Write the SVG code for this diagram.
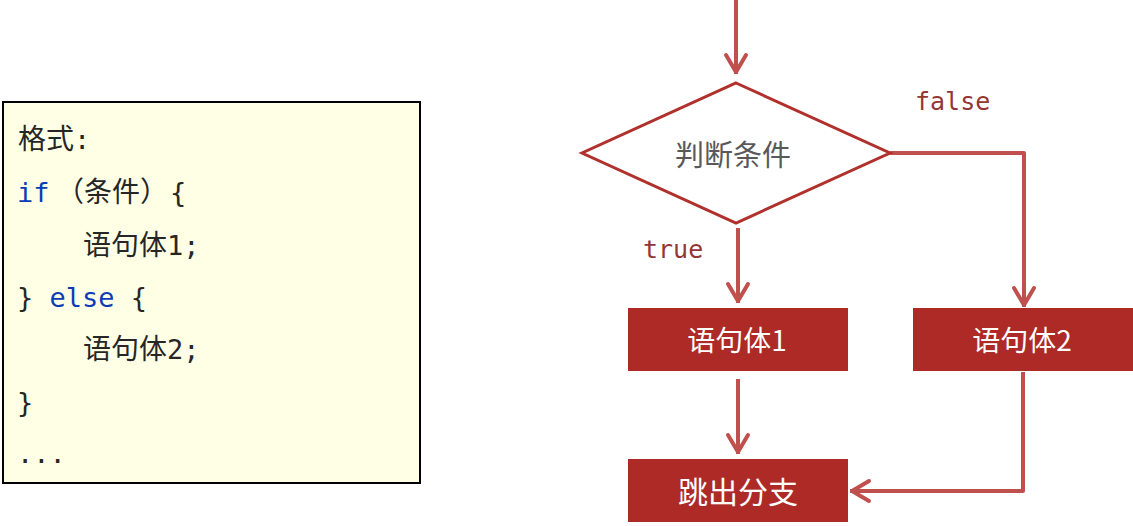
<svg xmlns="http://www.w3.org/2000/svg" width="1133" height="526" viewBox="0 0 1133 526">
<style>
.code{font-family:"DejaVu Sans Mono","Noto Sans CJK SC",monospace;font-size:27px;fill:#262626}
.kw{fill:#0B3BB5}
.cjk{font-family:"Noto Sans CJK SC","Noto Sans",sans-serif;font-size:28px}
.lbl{font-family:"DejaVu Sans Mono",monospace;font-size:25px;fill:#943634}
.conn{fill:none;stroke:#C0504D;stroke-width:4;stroke-linejoin:round}
.box{fill:#AD2A27}
.boxt{font-family:"Noto Sans CJK SC",sans-serif;fill:#FFFFFF;text-anchor:middle;dominant-baseline:central}
</style>
<defs>
<marker id="ah" markerUnits="userSpaceOnUse" viewBox="-24 -14 28 28" refX="0" refY="0" markerWidth="28" markerHeight="28" orient="auto">
<path d="M-19,-10 L-2,0 L-19,10" fill="none" stroke="#C0504D" stroke-width="4" stroke-linecap="round" stroke-linejoin="round"/>
</marker>
</defs>
<rect width="1133" height="526" fill="#FFFFFF"/>

<g id="code-box">
<rect x="3" y="102" width="417" height="381" fill="#FFFFE6" stroke="#000000" stroke-width="2"/>
<text class="code" x="18" y="149"><tspan class="cjk">格式</tspan>:</text>
<text class="code" x="17" y="202"><tspan class="kw">if</tspan><tspan class="cjk" x="56">（条件）</tspan><tspan x="170">{</tspan></text>
<text class="code" x="83" y="255"><tspan class="cjk">语句体</tspan>1;</text>
<text class="code" x="17" y="307">} <tspan class="kw">else</tspan> {</text>
<text class="code" x="83" y="359"><tspan class="cjk">语句体</tspan>2;</text>
<text class="code" x="17" y="412">}</text>
<text class="code" x="17" y="463">...</text>
</g>

<g id="connectors">
<path class="conn" d="M736,0 L736,74" marker-end="url(#ah)"/>
<path class="conn" d="M738,228 L738,303" marker-end="url(#ah)"/>
<path class="conn" d="M890,153 L1024,153 L1024,307" marker-end="url(#ah)"/>
<path class="conn" d="M738,379 L738,454" marker-end="url(#ah)"/>
<path class="conn" d="M1023,372 L1023,491 L850,491" marker-end="url(#ah)"/>
<text class="lbl" x="915" y="110">false</text>
<text class="lbl" x="643" y="258">true</text>
</g>

<g id="decision">
<polygon points="736,83 890,153 736,223 582,153" fill="#FFFFFF" stroke="#B0302C" stroke-width="3"/>
<text x="733" y="153" font-family="Noto Sans CJK SC, sans-serif" font-size="29" fill="#595959" text-anchor="middle" dominant-baseline="central">判断条件</text>
</g>

<g id="stmt1">
<rect class="box" x="628" y="308" width="220" height="63"/>
<text class="boxt" x="737" y="339" font-size="28">语句体1</text>
</g>

<g id="stmt2">
<rect class="box" x="913" y="308" width="220" height="63"/>
<text class="boxt" x="1022" y="339" font-size="28">语句体2</text>
</g>

<g id="exit">
<rect class="box" x="628" y="459" width="220" height="63"/>
<text class="boxt" x="738" y="490" font-size="30">跳出分支</text>
</g>
</svg>
